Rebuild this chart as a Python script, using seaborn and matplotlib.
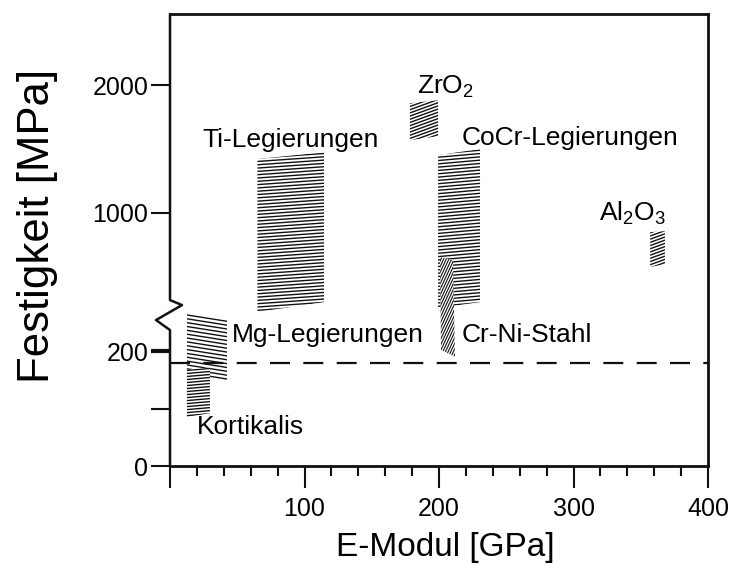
import numpy as np
import matplotlib
matplotlib.use("Agg")
import matplotlib.pyplot as plt
import seaborn as sns
from matplotlib.patches import Polygon
from matplotlib.collections import LineCollection
from matplotlib.transforms import IdentityTransform
from matplotlib.ticker import MultipleLocator, NullLocator, FixedLocator

# ---- material property ranges: corners (E-Modul [GPa], Festigkeit [MPa]) ----
kortikalis_e = [12.6, 29.7, 29.7, 12.6]
kortikalis_s = [167, 172, 92, 85]

mg_e = [12.6, 42.4, 42.4, 12.6]
mg_s = [266, 254, 148, 160]

ti_e = [65, 114.5, 114.5, 65]
ti_s = [1421, 1475, 303, 268]

zro2_e = [178.4, 199.3, 199.3, 178.4]
zro2_s = [1858, 1881, 1600, 1569]

cocr_e = [199.3, 230.5, 230.5, 199.3]
cocr_s = [1452, 1499, 303, 275]

crni_e = [200.7, 210.4, 211.9, 201.5]
crni_s = [655, 631, 190, 202]

al2o3_e = [357, 368, 368, 357]
al2o3_s = [850, 858, 600, 577]

bone_limit = 180  # MPa, dashed reference line

x_ticks = [0, 100, 200, 300, 400]
x_ticklabels = ["", "100", "200", "300", "400"]
y_ticks = [0, 100, 200, 1000, 2000]
y_ticklabels = ["0", "", "200", "1000", "2000"]

# ---- broken strength axis: fine scale below the knee, coarse scale above ----
Y_KNEE = 280.0
LOW, HIGH = 0.575, 0.128


def fwd(y):
    y = np.asarray(y, dtype=float)
    return np.where(y <= Y_KNEE, y * LOW, Y_KNEE * LOW + (y - Y_KNEE) * HIGH)


def inv(p):
    p = np.asarray(p, dtype=float)
    pk = Y_KNEE * LOW
    return np.where(p <= pk, p / LOW, Y_KNEE + (p - pk) / HIGH)


sns.set_theme(style="ticks")
plt.rcParams["font.family"] = ["Liberation Sans", "DejaVu Sans"]
plt.rcParams["mathtext.default"] = "regular"
for key in ["text.color", "axes.labelcolor", "xtick.color", "ytick.color"]:
    plt.rcParams[key] = "black"

fig = plt.figure(figsize=(7.33, 5.77), dpi=100)
ax = fig.add_axes([170 / 733, 1 - 466 / 577, 538 / 733, 452 / 577])
ax.set_yscale("function", functions=(fwd, inv))
ax.set_xlim(0, 400)
ax.set_ylim(0, 2555)


def hatched(xs, ys, angle, spacing, lw=1.0, z=2):
    """White-backed polygon filled with parallel lines at a given angle."""
    verts = np.column_stack([xs, ys])
    patch = Polygon(verts, closed=True, facecolor="white", edgecolor="none",
                    transform=ax.transData, zorder=z)
    ax.add_patch(patch)
    disp = ax.transData.transform(verts)
    th = np.deg2rad(angle)
    d = np.array([np.cos(th), np.sin(th)])
    n = np.array([-np.sin(th), np.cos(th)])
    proj = disp @ n
    along = disp @ d
    offs = np.arange(proj.min() + spacing / 2, proj.max(), spacing)
    a0, a1 = along.min() - 5, along.max() + 5
    segs = [[o * n + a0 * d, o * n + a1 * d] for o in offs]
    lc = LineCollection(segs, colors="#111111", linewidths=lw,
                        transform=IdentityTransform(), zorder=z + 0.1)
    lc.set_clip_path(patch)
    ax.add_collection(lc, autolim=False)


hatched(mg_e, mg_s, -9, 3.8, z=2)
hatched(kortikalis_e, kortikalis_s, 5, 3.0, z=3)
hatched(ti_e, ti_s, 4, 3.3, z=2)
hatched(zro2_e, zro2_s, 20, 3.0, z=2)
hatched(cocr_e, cocr_s, 5, 3.3, z=2)
hatched(crni_e, crni_s, 65, 2.4, lw=0.8, z=3)
hatched(al2o3_e, al2o3_s, 20, 3.0, z=2)

# reference line
sns.lineplot(x=[0, 400], y=[bone_limit, bone_limit], ax=ax, color="#111111",
             linewidth=1.6, linestyle=(0, (9, 6)), zorder=5, legend=False)

# material labels
fs = 19
ax.text(183.6, 1983, "ZrO$_2$", fontsize=fs, va="center", ha="left")
ax.text(23.8, 1569, "Ti-Legierungen", fontsize=fs, va="center", ha="left")
ax.text(217, 1584, "CoCr-Legierungen", fontsize=fs, va="center", ha="left")
ax.text(319, 1000, "Al$_2$O$_3$", fontsize=fs, va="center", ha="left")
ax.text(217, 228, "Cr-Ni-Stahl", fontsize=fs, va="center", ha="left")
ax.text(46, 228, "Mg-Legierungen", fontsize=fs, va="center", ha="left")
ax.text(20, 68, "Kortikalis", fontsize=fs, va="center", ha="left")

# ticks
ax.xaxis.set_major_locator(FixedLocator(x_ticks))
ax.set_xticklabels(x_ticklabels)
ax.xaxis.set_minor_locator(MultipleLocator(20))
ax.yaxis.set_major_locator(FixedLocator(y_ticks))
ax.set_yticklabels(y_ticklabels)
ax.yaxis.set_minor_locator(NullLocator())
ax.tick_params(axis="x", which="major", direction="out", length=16, width=1.5,
               labelsize=18, pad=6, color="#111111")
ax.tick_params(axis="x", which="minor", direction="out", length=7, width=1.5,
               color="#111111")
ax.tick_params(axis="y", which="major", direction="out", length=13.5, width=1.5,
               labelsize=18, pad=2, color="#111111")
for t, v in zip(ax.yaxis.get_major_ticks(), y_ticks):
    if v == 200:
        t.tick1line.set_markeredgewidth(3)

ax.set_xlabel("E-Modul [GPa]", fontsize=24)
ax.set_ylabel("Festigkeit [MPa]", fontsize=31.5)
ax.xaxis.set_label_coords(0.511, -0.145)
ax.yaxis.set_label_coords(-0.208, 0.531)

# frame with a break mark on the left spine
for side in ["top", "right", "bottom"]:
    ax.spines[side].set_linewidth(2.0)
    ax.spines[side].set_color("#111111")
ax.spines["left"].set_visible(False)

top_val = ax.get_ylim()[1]
yk = float(fwd(Y_KNEE) / fwd(top_val))
w_px, h_px = 538.0, 452.0
zig_x = np.array([0, 0, 12, -14, 0, 0]) / w_px
zig_y = yk + np.array([-h_px, 5, 0, -15, -25, -h_px]) / h_px
zig_y[0] = 1.0
zig_y[-1] = 0.0
ax.plot(zig_x, zig_y, color="#111111", lw=1.8, transform=ax.transAxes,
        clip_on=False, zorder=6)

fig.savefig("out.png", dpi=100)
